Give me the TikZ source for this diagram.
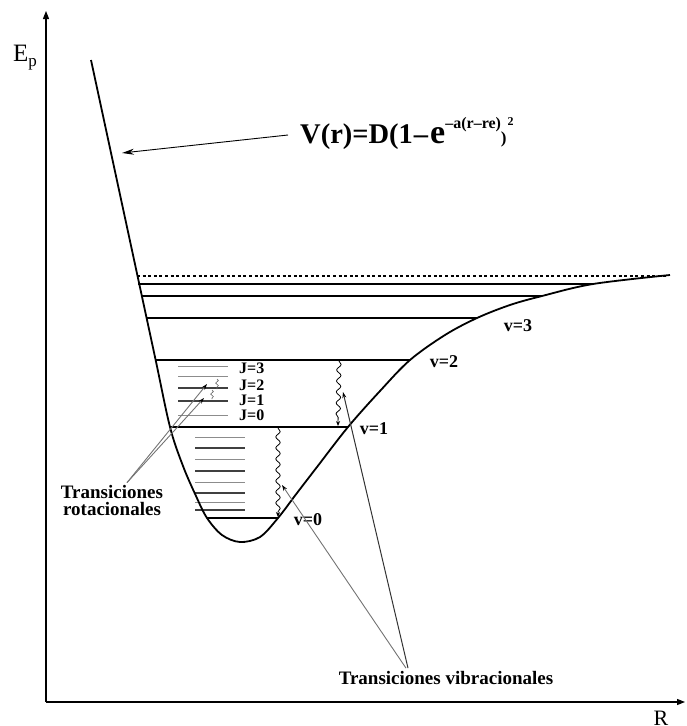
\documentclass[tikz,border=0pt]{standalone}
\usepackage{fontspec}
\setmainfont{Liberation Serif}
\usetikzlibrary{arrows.meta,decorations.pathmorphing,calc}
\begin{document}
\begin{tikzpicture}[x=1pt,y=-1pt,
  axis/.style={line width=1.1pt,-{Triangle[length=8pt,width=6pt]}},
  curve/.style={line width=1.8pt},
  level/.style={line width=1.8pt},
  rotA/.style={line width=1.4pt, black!75},
  rotB/.style={line width=0.9pt, black!45},
  lab/.style={font=\fontsize{18}{18}\selectfont\bfseries, inner sep=0pt},
  jlab/.style={font=\fontsize{16}{16}\selectfont\bfseries, inner sep=0pt, anchor=west},
  bigtxt/.style={font=\fontsize{19}{17}\selectfont\bfseries, align=center, inner sep=0pt},
  wav/.style={decorate, decoration={snake,amplitude=2.2pt,segment length=11pt,post length=5pt}, line width=0.8pt, -{Stealth[length=5pt,width=4pt]}},
  squig/.style={decorate, decoration={snake,amplitude=1.4pt,segment length=5pt}, line width=0.6pt, black!60},
  ptr/.style={line width=0.9pt,-{Stealth[length=12pt,width=6pt]}},
  gptr/.style={line width=0.9pt, black!55,-{Stealth[length=6pt,width=4pt,black]}},
  dptr/.style={line width=1pt, black!80,-{Stealth[length=6pt,width=4pt,black]}},
]
\useasboundingbox (0,0) rectangle (686,726);

% axes
\coordinate (O) at (46,702);
\coordinate (Ytop) at (46,11);
\coordinate (Xend) at (685,702);
\draw[axis] (O) -- (Ytop);
\draw[axis] (O) -- (Xend);
\node[anchor=base west, inner sep=0pt, font=\fontsize{25}{25}\selectfont] (Ep) at (13,61) {E\raisebox{-5pt}{\fontsize{17}{17}\selectfont p}};
\node[anchor=base, inner sep=0pt, font=\fontsize{22}{22}\selectfont] (R) at (661,725) {R};

% dissociation limit
\draw[line width=1.5pt, dash pattern=on 3pt off 2.6pt] (137,276) -- (668,276);

% vibrational levels
\draw[level] (138,284) -- (593,284);
\draw[level] (141,296) -- (542,296);
\draw[level] (146,318) -- (477,318);
\draw[level] (155,360) -- (410,360);
\draw[level] (170,427) -- (348,427);
\draw[level] (207,518) -- (278,518);

% rotational levels (between v=1 and v=2)
\draw[rotB] (178,366) -- (228,366);
\draw[rotB] (178,376) -- (228,376);
\draw[rotA] (178,388) -- (228,388);
\draw[rotA] (178,401) -- (228,401);
\draw[rotB] (178,415) -- (228,415);

% rotational levels (between v=0 and v=1)
\draw[rotB] (195,437) -- (245,437);
\draw[rotA] (195,448) -- (245,448);
\draw[rotB] (195,459) -- (245,459);
\draw[rotA] (195,471) -- (245,471);
\draw[rotB] (195,482) -- (245,482);
\draw[rotA] (195,493) -- (245,493);
\draw[rotB] (195,502) -- (245,502);
\draw[rotA] (195,510) -- (245,510);

% potential curve
\draw[curve] plot[smooth, tension=0.55] coordinates {(91,60) (130,241) (155,357) (170,427) (183,466) (196,496) (207,518) (222,535) (240,542) (260,537) (278,518) (297,493) (317,467) (348,427) (380,391) (410,360) (445,335) (477,318) (510,305) (542,296) (593,284) (670,275)};

% formula
\node[anchor=base west, inner sep=0pt] (F) at (300,143) {\bfseries\fontsize{28.5}{28}\selectfont V(r)=D(1\kern1pt–\kern2pt{\fontsize{34}{34}\selectfont e}\raisebox{15pt}{\fontsize{16}{16}\selectfont –a(r–re)}{\fontsize{17}{17}\selectfont )}\raisebox{18pt}{\fontsize{12}{12}\selectfont\kern1pt 2}};
\coordinate (ftip) at (122,153);
\draw[ptr] ($(F.base west)+(-12,-8)$) -- (ftip);

% level labels
\node[lab] (v0) at (308,520) {v=0};
\node[lab] (v1) at (374,429) {v=1};
\node[lab] (v2) at (444,362) {v=2};
\node[lab] (v3) at (518,326) {v=3};
\node[jlab] (j3) at (239,368) {J=3};
\node[jlab] (j2) at (239,385) {J=2};
\node[jlab] (j1) at (239,400) {J=1};
\node[jlab] (j0) at (239,415) {J=0};

% transitions
\draw[wav] (339,361) -- (338,426);
\draw[wav] (278,428) -- (278,517);
\draw[squig] (217,379) -- (217,389);
\draw[squig] (212,390) -- (212,399);

% labels of transitions
\node[bigtxt] (rot) at (112,500) {Transiciones\\rotacionales};
\node[bigtxt] (vib) at (446,678) {Transiciones vibracionales};
\coordinate (rt1) at (207,384);
\coordinate (rt2) at (204,398);
\coordinate (vt1) at (343,392);
\coordinate (vt0) at (282,485);
\draw[gptr] ([xshift=15pt,yshift=2pt]rot.north) -- (rt1);
\draw[gptr] ([xshift=15pt,yshift=2pt]rot.north) -- (rt2);
\draw[dptr] ([xshift=-38pt,yshift=3pt]vib.north) -- (vt1);
\draw[gptr] ([xshift=-40pt,yshift=3pt]vib.north) -- (vt0);
\end{tikzpicture}
\end{document}
